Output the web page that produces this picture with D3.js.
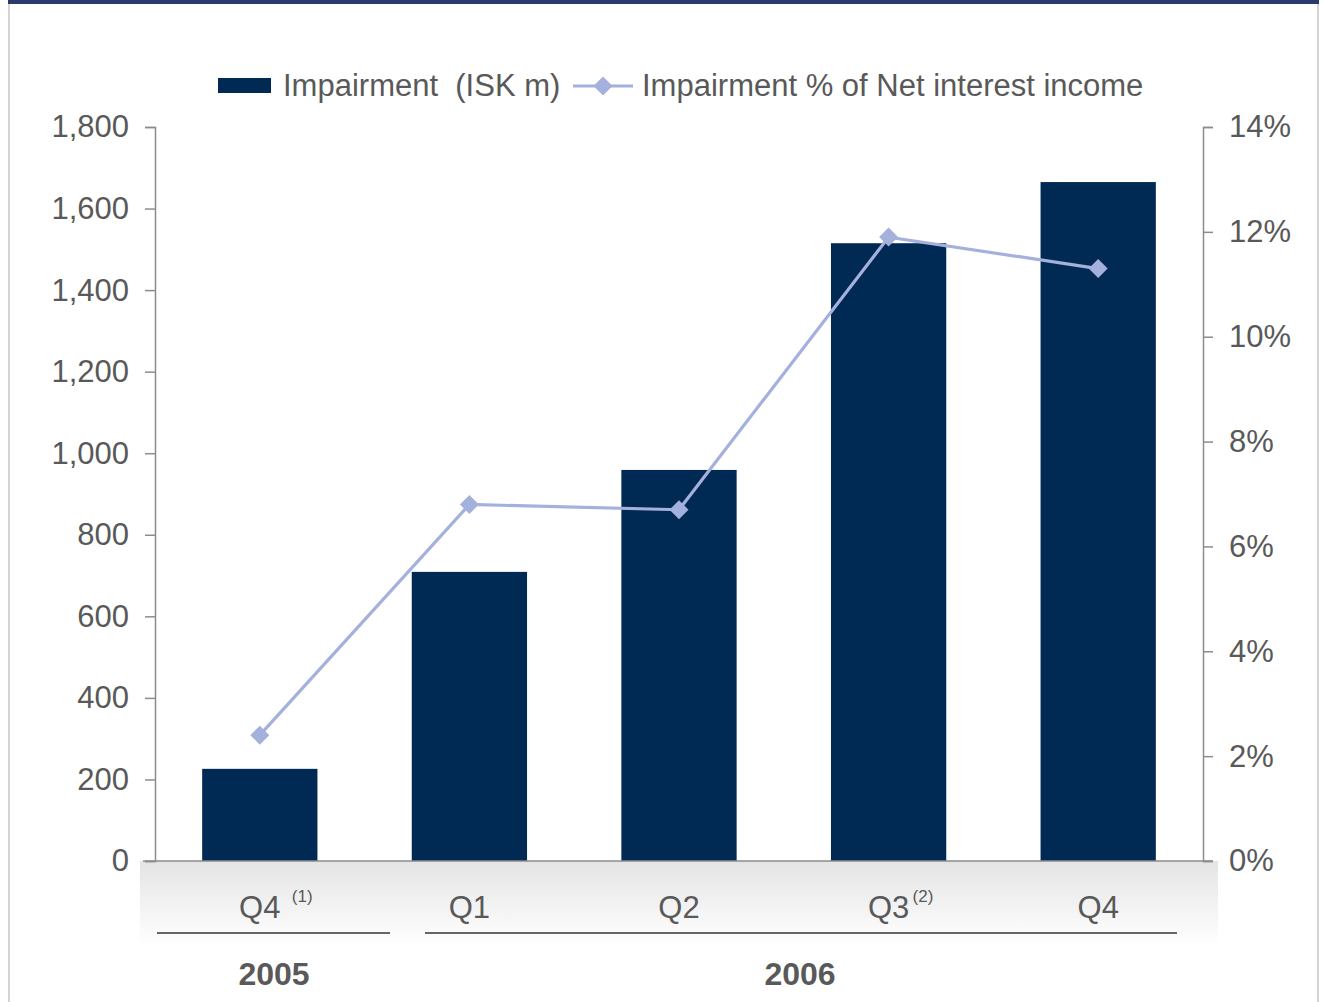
<!DOCTYPE html>
<html>
<head>
<meta charset="utf-8">
<script src="https://cdn.jsdelivr.net/npm/d3@7"></script>
<style>
  html, body { margin: 0; padding: 0; background: #fff; }
  svg { display: block; font-family: "Liberation Sans", Arial, sans-serif; }
</style>
</head>
<body>
<svg id="chart" width="1323" height="1002"></svg>
<script>
// Quarterly impairment data
const quarters = ["Q4", "Q1", "Q2", "Q3", "Q4b"];
const quarterLabels = ["Q4", "Q1", "Q2", "Q3", "Q4"];
const quarterNotes = ["(1)", "", "", "(2)", ""];
const impairment = [226, 709, 959, 1515, 1665];            // ISK m
const impairmentPct = [2.4, 6.8, 6.7, 11.9, 11.3];          // % of net interest income
const leftTicks = [0, 200, 400, 600, 800, 1000, 1200, 1400, 1600, 1800];
const rightTicks = [0, 2, 4, 6, 8, 10, 12, 14];
const years = [
  { label: "2005", from: "Q4", to: "Q4" },
  { label: "2006", from: "Q1", to: "Q4b" }
];

const svg = d3.select("#chart");
const textColor = "#595959";
const axisColor = "#8c8c8c";
const barColor = "#002a54";
const lineColor = "#a3b1dc";

const plot = { left: 155, right: 1203, top: 127, bottom: 861 };

const x = d3.scaleBand().domain(quarters)
  .range([plot.left, plot.right]).paddingInner(0.45).paddingOuter(0.225);
const yL = d3.scaleLinear().domain([0, 1800]).range([plot.bottom, plot.top]);
const yR = d3.scaleLinear().domain([0, 14]).range([plot.bottom, plot.top]);

// Page frame
svg.append("line").attr("x1", 9).attr("x2", 9).attr("y1", 0).attr("y2", 1002)
  .attr("stroke", "#d4d4d4").attr("stroke-width", 2);
svg.append("line").attr("x1", 1318).attr("x2", 1318).attr("y1", 0).attr("y2", 1002)
  .attr("stroke", "#d4d4d4").attr("stroke-width", 2);
svg.append("rect").attr("x", 8).attr("y", 0).attr("width", 1311).attr("height", 4)
  .attr("fill", "#2b3a6b");

// Shaded band under the category axis
const defs = svg.append("defs");
const grad = defs.append("linearGradient").attr("id", "band")
  .attr("x1", 0).attr("x2", 0).attr("y1", 0).attr("y2", 1);
grad.append("stop").attr("offset", "0%").attr("stop-color", "#e4e4e4");
grad.append("stop").attr("offset", "100%").attr("stop-color", "#ffffff");
svg.append("rect").attr("x", 140).attr("y", plot.bottom).attr("width", 1078).attr("height", 84)
  .attr("fill", "url(#band)");

// Bars
svg.append("g").selectAll("rect").data(impairment).join("rect")
  .attr("x", (d, i) => x(quarters[i]))
  .attr("width", x.bandwidth())
  .attr("y", d => yL(d))
  .attr("height", d => yL(0) - yL(d))
  .attr("fill", barColor);

// Left axis
const leftAxis = svg.append("g").attr("transform", `translate(${plot.left},0)`)
  .call(d3.axisLeft(yL).tickValues(leftTicks).tickFormat(d3.format(",")).tickSize(10).tickPadding(16));
leftAxis.select(".domain").attr("stroke", axisColor).attr("stroke-width", 1.5);
leftAxis.selectAll(".tick line").attr("stroke", axisColor).attr("stroke-width", 1.5);
leftAxis.selectAll(".tick text").attr("fill", textColor).attr("font-size", 31)
  .attr("font-family", "Liberation Sans, Arial, sans-serif");

// Right axis
const rightAxis = svg.append("g").attr("transform", `translate(${plot.right},0)`)
  .call(d3.axisRight(yR).tickValues(rightTicks).tickFormat(d => d + "%").tickSize(10).tickPadding(16));
rightAxis.select(".domain").attr("stroke", axisColor).attr("stroke-width", 1.5);
rightAxis.selectAll(".tick line").attr("stroke", axisColor).attr("stroke-width", 1.5);
rightAxis.selectAll(".tick text").attr("fill", textColor).attr("font-size", 31)
  .attr("font-family", "Liberation Sans, Arial, sans-serif");

// Category baseline
svg.append("line").attr("x1", 143).attr("x2", 1213).attr("y1", plot.bottom).attr("y2", plot.bottom)
  .attr("stroke", axisColor).attr("stroke-width", 1.5);

// Percentage line with diamond markers
const cx = (d, i) => x(quarters[i]) + x.bandwidth() / 2;
svg.append("path").datum(impairmentPct)
  .attr("d", d3.line().x(cx).y(d => yR(d)))
  .attr("fill", "none").attr("stroke", lineColor).attr("stroke-width", 3.2);
const diamond = d3.symbol().type(d3.symbolSquare).size(180)();
svg.append("g").selectAll("path").data(impairmentPct).join("path")
  .attr("d", diamond)
  .attr("transform", (d, i) => `translate(${cx(d, i)},${yR(d)}) rotate(45)`)
  .attr("fill", lineColor);

// Quarter labels with footnote markers
const qg = svg.append("g").attr("fill", textColor);
quarters.forEach((q, i) => {
  qg.append("text").attr("x", x(q) + x.bandwidth() / 2).attr("y", 918)
    .attr("text-anchor", "middle").attr("font-size", 31).text(quarterLabels[i]);
  if (quarterNotes[i]) {
    qg.append("text").attr("x", x(q) + x.bandwidth() / 2 + (i === 0 ? 32 : 24)).attr("y", 902)
      .attr("font-size", 17).text(quarterNotes[i]);
  }
});

// Year groupings
const yearLines = [[157, 390], [425, 1177]];
years.forEach((yr, i) => {
  const [a, b] = yearLines[i];
  svg.append("line").attr("x1", a).attr("x2", b).attr("y1", 933).attr("y2", 933)
    .attr("stroke", "#666").attr("stroke-width", 2);
  const mid = i === 0 ? 274 : 800;
  svg.append("text").attr("x", mid).attr("y", 985).attr("text-anchor", "middle")
    .attr("font-size", 32).attr("font-weight", "bold").attr("fill", textColor).text(yr.label);
});

// Legend
const lg = svg.append("g");
lg.append("rect").attr("x", 218).attr("y", 78).attr("width", 53).attr("height", 15).attr("fill", barColor);
lg.append("text").attr("x", 283).attr("y", 96).attr("font-size", 31).attr("fill", textColor)
  .attr("xml:space", "preserve").text("Impairment  (ISK m)");
lg.append("line").attr("x1", 573).attr("x2", 633).attr("y1", 86).attr("y2", 86)
  .attr("stroke", lineColor).attr("stroke-width", 3.2);
lg.append("path").attr("d", diamond).attr("transform", "translate(603,86) rotate(45)").attr("fill", lineColor);
lg.append("text").attr("x", 642).attr("y", 96).attr("font-size", 31).attr("fill", textColor)
  .text("Impairment % of Net interest income");
</script>
</body>
</html>
